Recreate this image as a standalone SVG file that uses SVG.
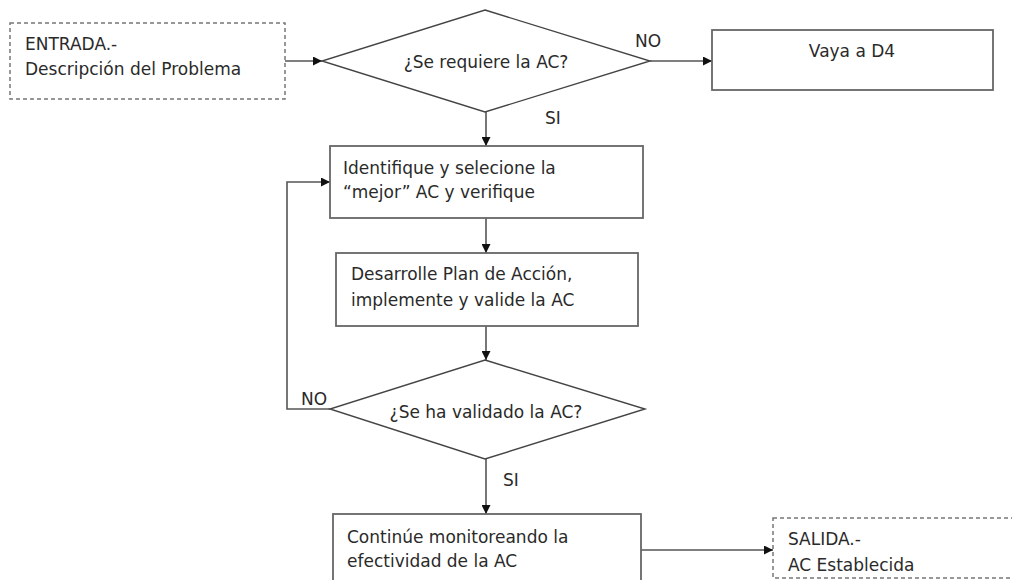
<svg xmlns="http://www.w3.org/2000/svg" width="1012" height="580" viewBox="0 0 1012 580">
<defs>
<style>
.box{fill:#fff;stroke:#666;stroke-width:1.8}
.dash{fill:#fff;stroke:#777;stroke-width:1.5;stroke-dasharray:4 3}
.dia{fill:#fff;stroke:#444;stroke-width:1.4}
.t{font-family:"DejaVu Sans",Verdana,sans-serif;font-size:17px;fill:#2a2a2a}
.c{text-anchor:middle}
.ln{fill:none;stroke:#555;stroke-width:1.6}
</style>
<marker id="ah" viewBox="0 0 10 10" refX="10" refY="5" markerWidth="9" markerHeight="9" markerUnits="userSpaceOnUse" orient="auto">
<path d="M0,0 L10,5 L0,10 z" fill="#111"/>
</marker>
</defs>
<rect width="1012" height="580" fill="#fff"/>
<g id="connectors">
<line class="ln" x1="285" y1="61" x2="322" y2="61" marker-end="url(#ah)"/>
<line class="ln" x1="650" y1="61" x2="712" y2="61" marker-end="url(#ah)"/>
<line class="ln" x1="486" y1="112" x2="486" y2="146" marker-end="url(#ah)"/>
<line class="ln" x1="486" y1="218" x2="486" y2="253" marker-end="url(#ah)"/>
<line class="ln" x1="486" y1="326" x2="486" y2="360" marker-end="url(#ah)"/>
<line class="ln" x1="486" y1="459" x2="486" y2="514" marker-end="url(#ah)"/>
<polyline class="ln" points="330,409 287,409 287,182 330,182" marker-end="url(#ah)"/>
<line class="ln" x1="641" y1="550" x2="773" y2="550" marker-end="url(#ah)"/>
<text class="t" x="635" y="47">NO</text>
<text class="t" x="545" y="124">SI</text>
<text class="t" x="301" y="405">NO</text>
<text class="t" x="503" y="486">SI</text>
</g>
<g id="entrada">
<rect class="dash" x="10" y="23" width="275" height="76"/>
<text class="t" x="25" y="50">ENTRADA.-</text>
<text class="t" x="25" y="75">Descripción del Problema</text>
</g>
<g id="decision1">
<polygon class="dia" points="485,10 650,61 485,112 322,61"/>
<text class="t c" x="486" y="68">¿Se requiere la AC?</text>
</g>
<g id="vaya">
<rect class="box" x="712" y="30" width="281" height="60"/>
<text class="t c" x="852" y="57">Vaya a D4</text>
</g>
<g id="identifique">
<rect class="box" x="330" y="146" width="313" height="72"/>
<text class="t" x="343" y="174">Identifique y selecione la</text>
<text class="t" x="343" y="198">“mejor” AC y verifique</text>
</g>
<g id="desarrolle">
<rect class="box" x="336" y="253" width="302" height="73"/>
<text class="t" x="351" y="280">Desarrolle Plan de Acción,</text>
<text class="t" x="351" y="306">implemente y valide la AC</text>
</g>
<g id="decision2">
<polygon class="dia" points="485,360 645,409 485,459 330,409"/>
<text class="t c" x="486" y="418">¿Se ha validado la AC?</text>
</g>
<g id="continue">
<rect class="box" x="333" y="514" width="308" height="80"/>
<text class="t" x="347" y="543">Continúe monitoreando la</text>
<text class="t" x="347" y="567">efectividad de la AC</text>
</g>
<g id="salida">
<rect class="dash" x="773" y="518" width="260" height="60"/>
<text class="t" x="788" y="545">SALIDA.-</text>
<text class="t" x="788" y="571">AC Establecida</text>
</g>
</svg>
